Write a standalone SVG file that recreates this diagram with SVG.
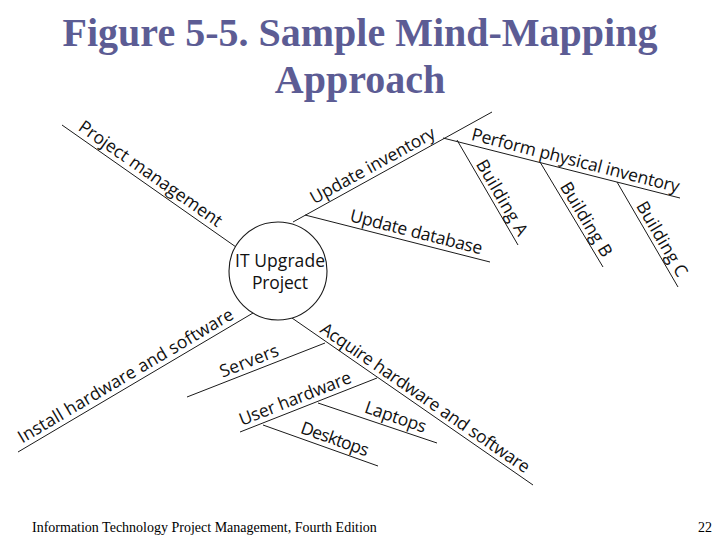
<svg xmlns="http://www.w3.org/2000/svg" width="720" height="540" viewBox="0 0 720 540">
<style>
.title{font-family:"Liberation Serif","Times New Roman",serif;font-weight:bold;font-size:40px;fill:#5c5c94;text-anchor:middle}
.foot{font-family:"Liberation Serif","Times New Roman",serif;font-size:14px;fill:#000}
.lbl{font-family:"Open Sans","Noto Sans","DejaVu Sans",sans-serif;font-size:17.5px;fill:#111}
.ctr{text-anchor:middle}
.con line{stroke:#1a1a1a;stroke-width:1;fill:none}
.hub{fill:#fff;stroke:#1a1a1a;stroke-width:1.1}
</style>
<rect width="720" height="540" fill="#fff"/>
<text class="title" x="360" y="46">Figure 5-5. Sample Mind-Mapping</text>
<text class="title" x="360" y="93">Approach</text>

<g id="connectors" class="con">
  <line x1="62" y1="125" x2="236" y2="247"/>
  <line x1="293" y1="222" x2="492" y2="112"/>
  <line x1="305" y1="215" x2="490" y2="262"/>
  <line x1="443" y1="138" x2="680" y2="198"/>
  <line x1="457" y1="140" x2="518" y2="245"/>
  <line x1="540" y1="162" x2="603" y2="267"/>
  <line x1="617" y1="182" x2="678" y2="287"/>
  <line x1="18" y1="452" x2="253" y2="313"/>
  <line x1="292" y1="318" x2="533" y2="485"/>
  <line x1="187" y1="397" x2="325" y2="343"/>
  <line x1="240" y1="432" x2="377" y2="378"/>
  <line x1="318" y1="403" x2="437" y2="443"/>
  <line x1="263" y1="425" x2="378" y2="466"/>
</g>

<g id="hub">
  <circle class="hub" cx="278" cy="271" r="49"/>
  <text class="lbl ctr" x="280" y="267" textLength="90">IT Upgrade</text>
  <text class="lbl ctr" x="280" y="289" textLength="56">Project</text>
</g>
<g id="project-management"><text class="lbl" transform="translate(62 125) rotate(35)" x="15" y="-5" textLength="171">Project management</text></g>
<g id="update-inventory"><text class="lbl" transform="translate(293 222) rotate(-28.9)" x="27" y="-5" textLength="140">Update inventory</text></g>
<g id="update-database"><text class="lbl" transform="translate(305 215) rotate(14.25)" x="44" y="-5" textLength="136">Update database</text></g>
<g id="perform-physical-inventory"><text class="lbl" transform="translate(443 138) rotate(14.3)" x="27" y="-5" textLength="214">Perform physical inventory</text></g>
<g id="building-a"><text class="lbl" transform="translate(457 140) rotate(59.8)" x="30" y="-4" textLength="85">Building A</text></g>
<g id="building-b"><text class="lbl" transform="translate(540 162) rotate(58.9)" x="31" y="-4" textLength="84">Building B</text></g>
<g id="building-c"><text class="lbl" transform="translate(617 182) rotate(59.6)" x="30" y="-4" textLength="84">Building C</text></g>
<g id="install-hardware-software"><text class="lbl" transform="translate(18 452) rotate(-30.6)" x="8" y="-5" textLength="247">Install hardware and software</text></g>
<g id="acquire-hardware-software"><text class="lbl" transform="translate(292 318) rotate(34.6)" x="30" y="-4" textLength="250">Acquire hardware and software</text></g>
<g id="servers"><text class="lbl" transform="translate(187 397) rotate(-21.4)" x="40" y="-5" textLength="62">Servers</text></g>
<g id="user-hardware"><text class="lbl" transform="translate(240 432) rotate(-21.5)" x="4" y="-5" textLength="119">User hardware</text></g>
<g id="laptops"><text class="lbl" transform="translate(318 403) rotate(18.9)" x="46" y="-6" textLength="64">Laptops</text></g>
<g id="desktops"><text class="lbl" transform="translate(263 425) rotate(19.6)" x="37" y="-5" textLength="71">Desktops</text></g>

<text class="foot" x="32" y="532">Information Technology Project Management, Fourth Edition</text>
<text class="foot" x="712" y="532" text-anchor="end">22</text>
</svg>
